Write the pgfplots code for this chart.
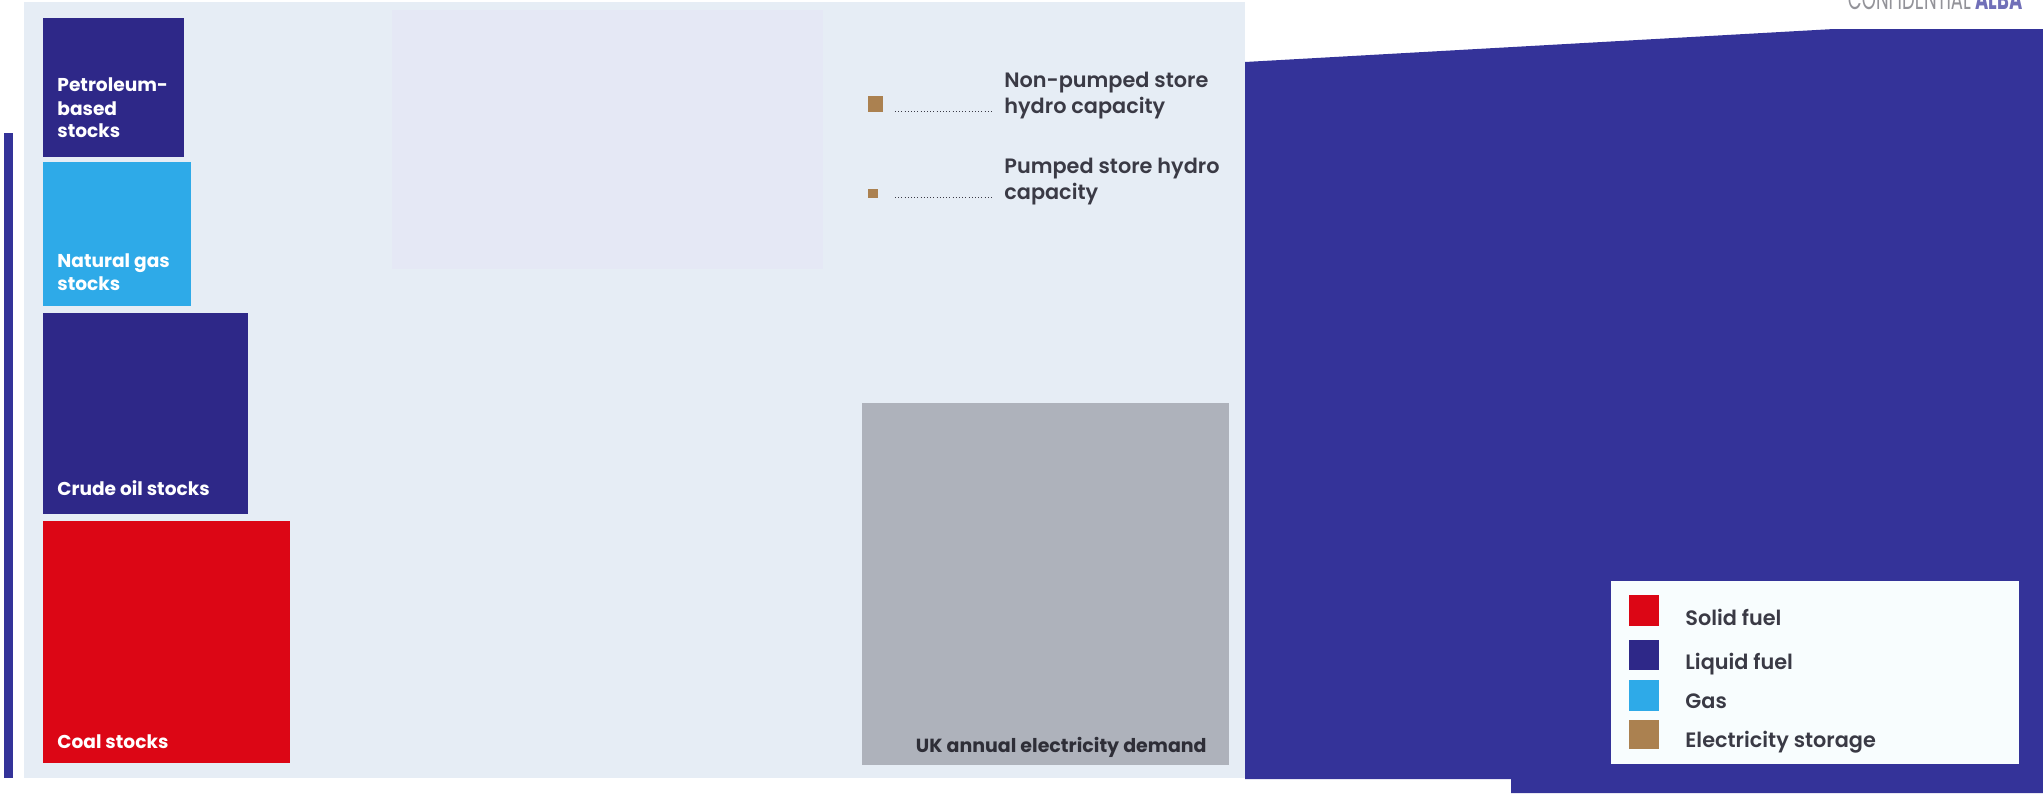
\documentclass[border=0pt]{standalone}
\usepackage{pgfplots}
\pgfplotsset{compat=1.18}
\usepackage{fontspec}
\setmainfont{Poppins}
\newfontfamily\semib{Poppins SemiBold}
\definecolor{panel}{HTML}{E6EDF5}
\definecolor{lav}{HTML}{E5E8F5}
\definecolor{navy}{HTML}{2E2888}
\definecolor{bgblue}{HTML}{343399}
\definecolor{gasblue}{HTML}{2EAAE8}
\definecolor{coal}{HTML}{DC0615}
\definecolor{demand}{HTML}{AEB2BB}
\definecolor{brown}{HTML}{AB8150}
\definecolor{legbg}{HTML}{F8FDFE}
\definecolor{txt}{HTML}{3A3A45}
\begin{document}
\begin{tikzpicture}
\begin{axis}[width=1021.5pt,height=396.5pt,scale only axis,
  xmin=0,xmax=2043,ymin=0,ymax=793,y dir=reverse,hide axis,clip=false]
\coordinate (BL) at (axis cs:0,793);
\coordinate (TR) at (axis cs:2043,0);
% background
\addplot[fill=white,draw=none] coordinates {(0,0) (2043,0) (2043,793) (0,793)} -- cycle;
% left bar
\addplot[fill=bgblue,draw=none] coordinates {(4,133) (13,133) (13,778) (4,778)} -- cycle;
% panel
\addplot[fill=panel,draw=none] coordinates {(24,2) (1245,2) (1245,778) (24,778)} -- cycle;
% lavender box
\addplot[fill=lav,draw=none] coordinates {(392,10) (823,10) (823,269) (392,269)} -- cycle;
% big blue shape
\addplot[fill=bgblue,draw=none] coordinates {(1245,62) (1834,29) (2043,29) (2043,793) (1511,793) (1511,779) (1245,779)} -- cycle;
% stocks squares
\addplot[fill=navy,draw=none] coordinates {(43,18) (184,18) (184,157) (43,157)} -- cycle;
\addplot[fill=gasblue,draw=none] coordinates {(43,162) (191,162) (191,306) (43,306)} -- cycle;
\addplot[fill=navy,draw=none] coordinates {(43,313) (248,313) (248,514) (43,514)} -- cycle;
\addplot[fill=coal,draw=none] coordinates {(43,521) (290,521) (290,763) (43,763)} -- cycle;
% demand
\addplot[fill=demand,draw=none] coordinates {(862,403) (1229,403) (1229,765) (862,765)} -- cycle;
% hydro squares
\addplot[fill=brown,draw=none] coordinates {(868,96) (883,96) (883,112) (868,112)} -- cycle;
\addplot[fill=brown,draw=none] coordinates {(868,189) (878,189) (878,198) (868,198)} -- cycle;
\addplot[txt,line width=0.4pt,dash pattern=on 0.4pt off 1.2pt] coordinates {(895,111) (993,111)};
\addplot[txt,line width=0.4pt,dash pattern=on 0.4pt off 1.2pt] coordinates {(895,197) (993,197)};
% legend
\addplot[fill=legbg,draw=none] coordinates {(1611,581) (2019,581) (2019,764) (1611,764)} -- cycle;
\addplot[fill=coal,draw=none] coordinates {(1629,595) (1659,595) (1659,626) (1629,626)} -- cycle;
\addplot[fill=navy,draw=none] coordinates {(1629,640) (1659,640) (1659,670) (1629,670)} -- cycle;
\addplot[fill=gasblue,draw=none] coordinates {(1629,680) (1659,680) (1659,711) (1629,711)} -- cycle;
\addplot[fill=brown,draw=none] coordinates {(1629,720) (1659,720) (1659,749) (1629,749)} -- cycle;

\tikzset{wl/.style={anchor=base west,inner sep=0pt,text=white,font=\fontsize{9.3}{11}\selectfont\bfseries},
  dl/.style={anchor=base west,inner sep=0pt,text=txt,font=\fontsize{10.4}{12}\selectfont\semib}}
\node[wl] at (axis cs:57,91) {Petroleum-};
\node[wl] at (axis cs:57,115) {based};
\node[wl] at (axis cs:57,137) {stocks};
\node[wl] at (axis cs:57,267) {Natural gas};
\node[wl] at (axis cs:57,290) {stocks};
\node[wl] at (axis cs:57,495) {Crude oil stocks};
\node[wl] at (axis cs:57,748) {Coal stocks};
\node[anchor=base east,inner sep=0pt,text=txt!80!black,font=\fontsize{9.5}{11}\selectfont\bfseries] at (axis cs:1207,752) {UK annual electricity demand};
\node[dl] at (axis cs:1004,87) {Non-pumped store};
\node[dl] at (axis cs:1004,113) {hydro capacity};
\node[dl] at (axis cs:1004,173) {Pumped store hydro};
\node[dl] at (axis cs:1004,199) {capacity};
\node[dl] at (axis cs:1685,625) {Solid fuel};
\node[dl] at (axis cs:1685,669) {Liquid fuel};
\node[dl] at (axis cs:1685,708) {Gas};
\node[dl] at (axis cs:1685,747) {Electricity storage};
% cropped header text (only its lower part lies inside the picture)
\node[anchor=base east,inner sep=0pt,font=\fontsize{9}{10}\selectfont] at (axis cs:2023,9) {\scalebox{1}[1.6]{\textcolor{txt!55}{CONFIDENTIAL} \textcolor{bgblue!70}{\bfseries ALBA}}};
\end{axis}
\pgfresetboundingbox
\useasboundingbox (BL) rectangle (TR);
\end{tikzpicture}
\end{document}
